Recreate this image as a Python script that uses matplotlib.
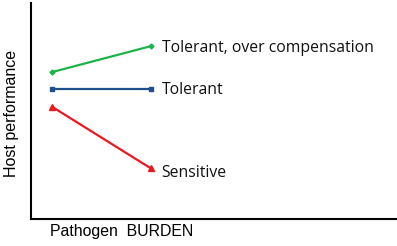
import matplotlib
matplotlib.use("Agg")
import matplotlib.pyplot as plt

# Data (arbitrary units)
burden = [1, 2]
over_comp = [6.8, 8.0]
tolerant = [6.0, 6.0]
sensitive = [5.2, 2.35]

labels = ["Tolerant, over compensation", "Tolerant", "Sensitive"]

fig = plt.figure(figsize=(3.97, 2.46), dpi=100)
ax = fig.add_axes([31 / 397, 27 / 246, 366 / 397, 216 / 246])

ax.plot(burden, over_comp, color="#1db34a", lw=1.6, marker="D", ms=2.5)
ax.plot(burden, tolerant, color="#1f4e8c", lw=1.6, marker="s", ms=3.5)
ax.plot(burden, sensitive, color="#e8191f", lw=1.6, marker="^", ms=4)

ax.text(2.11, over_comp[1] - 0.08, labels[0], fontsize=11.3, family="Open Sans",
        va="center", ha="left", color="#111111")
ax.text(2.11, tolerant[1] - 0.05, labels[1], fontsize=11.3, family="Open Sans",
        va="center", ha="left", color="#111111")
ax.text(2.11, sensitive[1] - 0.2, labels[2], fontsize=11.3, family="Open Sans",
        va="center", ha="left", color="#111111")

ax.set_xlim(0.788, 4.495)
ax.set_ylim(0, 10)
ax.set_xticks([])
ax.set_yticks([])
ax.spines["top"].set_visible(False)
ax.spines["right"].set_visible(False)
ax.spines["left"].set_linewidth(1.5)
ax.spines["bottom"].set_linewidth(1.5)

ax.set_xlabel("Pathogen  BURDEN", family="Liberation Sans", fontsize=11.4)
ax.xaxis.set_label_coords(0.247, -0.058)
ax.xaxis.label.set_va("center")
ax.set_ylabel("Host performance", family="Liberation Sans", fontsize=11.5)
ax.yaxis.set_label_coords(-0.052, 0.488)
ax.yaxis.label.set_va("center")

fig.savefig("out.png", dpi=100)
